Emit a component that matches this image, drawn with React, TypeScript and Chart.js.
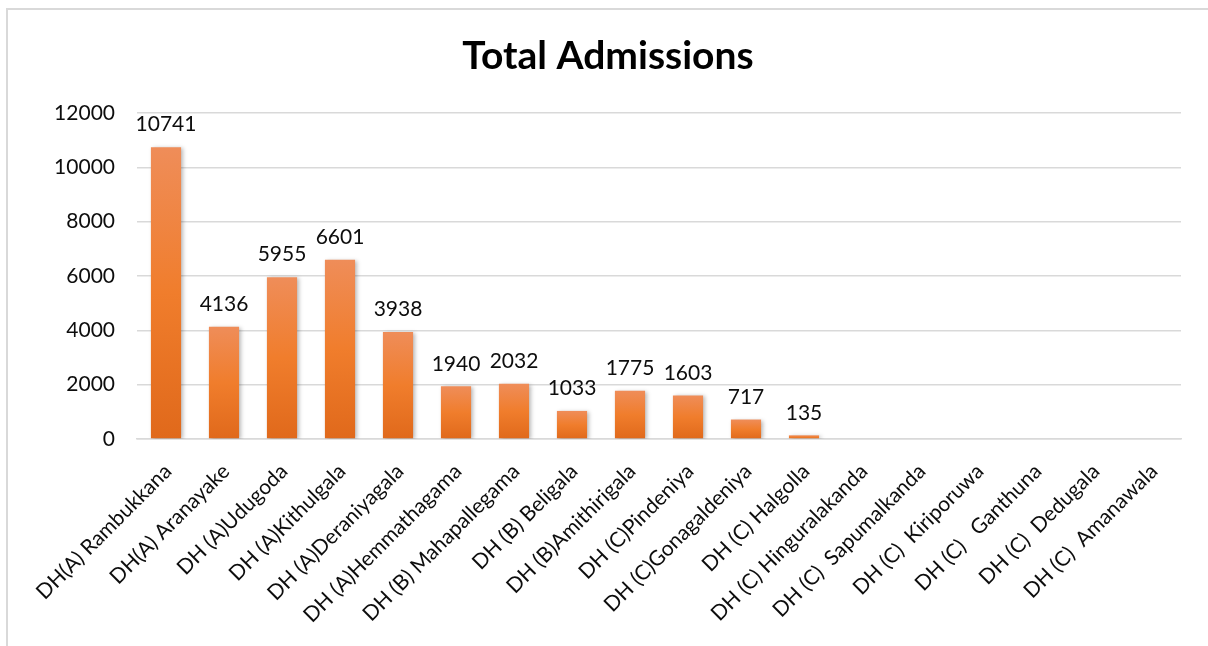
import React, { useEffect, useRef } from "react";
import { Chart, registerables } from "chart.js";

Chart.register(...registerables);

const categories = [
  "DH(A) Rambukkana",
  "DH(A) Aranayake",
  "DH (A)Udugoda",
  "DH (A)Kithulgala",
  "DH (A)Deraniyagala",
  "DH (A)Hemmathagama",
  "DH (B) Mahapallegama",
  "DH (B) Beligala",
  "DH (B)Amithirigala",
  "DH (C)Pindeniya",
  "DH (C)Gonagaldeniya",
  "DH (C) Halgolla",
  "DH (C) Hinguralakanda",
  "DH (C)  Sapumalkanda",
  "DH (C)  Kiriporuwa",
  "DH (C)   Ganthuna",
  "DH (C)  Dedugala",
  "DH (C)  Amanawala",
];

const admissions: (number | null)[] = [
  10741, 4136, 5955, 6601, 3938, 1940, 2032, 1033, 1775, 1603, 717, 135,
  null, null, null, null, null, null,
];

const yTicks = [0, 2000, 4000, 6000, 8000, 10000, 12000];

const FONT = "Lato, 'Open Sans', sans-serif";
const TEXT = "#0d0d0d";

const barFill = (c: any) => {
  const chart = c.chart;
  const y = chart.scales && chart.scales.y;
  const v = c.raw;
  if (!y || v === null || v === undefined) return "#F07D2C";
  const top = y.getPixelForValue(v);
  const base = y.getPixelForValue(0);
  if (!isFinite(top) || !isFinite(base) || base - top < 1) return "#E9731F";
  const g = chart.ctx.createLinearGradient(0, top, 0, base);
  g.addColorStop(0, "#EF8D59");
  g.addColorStop(0.5, "#F07D2C");
  g.addColorStop(1, "#E0691B");
  return g;
};

const labelPlugin = {
  id: "barLabels",
  beforeDatasetsDraw(chart: any) {
    const ctx = chart.ctx;
    ctx.save();
    ctx.shadowColor = "rgba(0,0,0,0.28)";
    ctx.shadowBlur = 4;
    ctx.shadowOffsetX = 2;
    ctx.shadowOffsetY = 1;
  },
  afterDatasetsDraw(chart: any) {
    const ctx = chart.ctx;
    ctx.restore();
    const meta = chart.getDatasetMeta(0);
    ctx.save();
    ctx.font = `21px ${FONT}`;
    ctx.fillStyle = TEXT;
    ctx.textAlign = "center";
    ctx.textBaseline = "bottom";
    meta.data.forEach((bar: any, i: number) => {
      const v = admissions[i];
      if (v === null || v === undefined) return;
      ctx.fillText(String(v), bar.x, bar.y - 12);
    });
    ctx.restore();
  },
};

const titlePlugin = {
  id: "customTitle",
  afterDraw(chart: any) {
    const ctx = chart.ctx;
    ctx.save();
    ctx.font = `bold 39px ${FONT}`;
    ctx.fillStyle = "#000000";
    ctx.textAlign = "center";
    ctx.textBaseline = "alphabetic";
    ctx.fillText("Total Admissions", 608, 69);
    ctx.restore();
  },
};

export default function App() {
  const ref = useRef<HTMLCanvasElement | null>(null);

  useEffect(() => {
    if (!ref.current) return;
    const chart = new Chart(ref.current, {
      type: "bar",
      data: {
        labels: categories,
        datasets: [
          {
            data: admissions as any,
            backgroundColor: barFill as any,
            barPercentage: 0.52,
            categoryPercentage: 1,
          },
        ],
      },
      options: {
        animation: false,
        responsive: false,
        layout: { padding: { top: 113, right: 27, left: 0, bottom: 0 } },
        plugins: {
          legend: { display: false },
          title: { display: false },
          tooltip: { enabled: false },
        },
        scales: {
          x: {
            grid: { display: false, drawTicks: false },
            border: { display: true, color: "#d9d9d9", width: 1.5 },
            ticks: {
              autoSkip: false,
              maxRotation: 45,
              minRotation: 45,
              color: TEXT,
              padding: 20,
              labelOffset: 2,
              font: { family: FONT, size: 21 },
            },
            afterFit(scale: any) {
              scale.height = 207;
            },
          },
          y: {
            min: 0,
            max: 12000,
            afterBuildTicks(scale: any) {
              scale.ticks = yTicks.map((v) => ({ value: v }));
            },
            grid: { color: "#d9d9d9", lineWidth: 1.5, drawTicks: false },
            border: { display: false },
            ticks: {
              color: TEXT,
              padding: 22,
              font: { family: FONT, size: 21 },
              callback: (v: any) => String(v),
            },
            afterFit(scale: any) {
              scale.width = 137;
            },
          },
        },
      },
      plugins: [labelPlugin, titlePlugin],
    });
    return () => chart.destroy();
  }, []);

  return (
    <div
      style={{
        position: "fixed",
        left: 0,
        top: 0,
        width: 1208,
        height: 646,
        overflow: "hidden",
        background: "#ffffff",
      }}
    >
      <div
        style={{
          position: "absolute",
          left: 6,
          top: 8,
          width: 1400,
          height: 900,
          border: "2px solid #d9d9d9",
          boxSizing: "border-box",
        }}
      />
      <canvas
        ref={ref}
        width={1208}
        height={646}
        style={{ position: "absolute", left: 0, top: 0, width: 1208, height: 646 }}
      />
    </div>
  );
}
